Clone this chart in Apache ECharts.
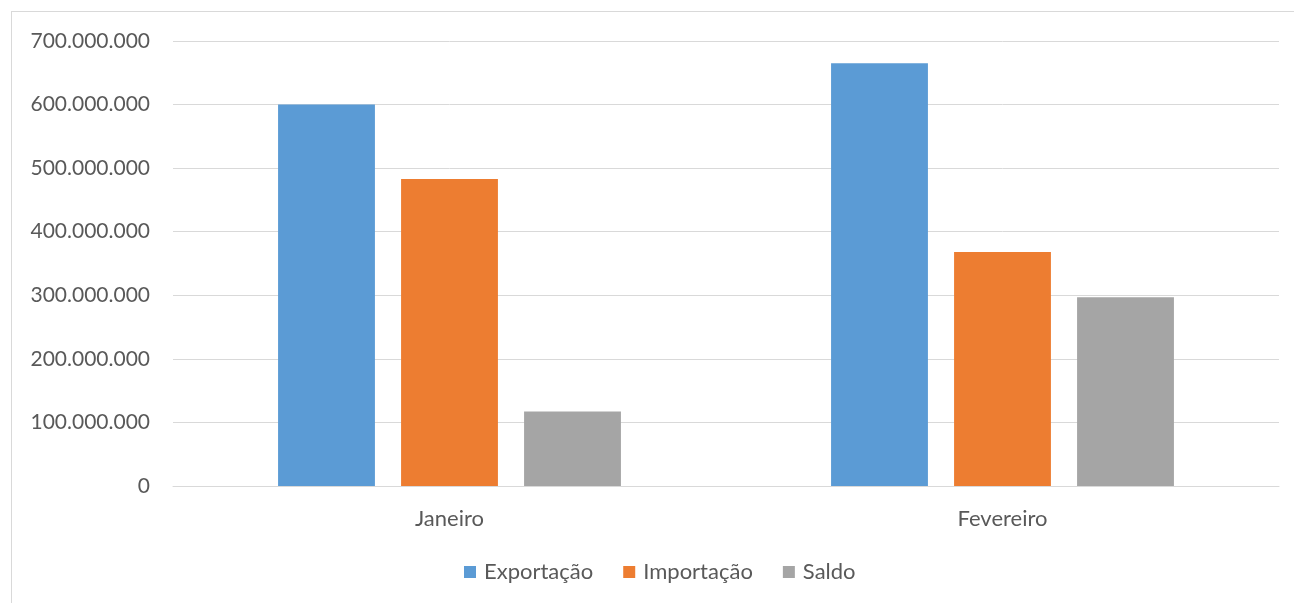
<!DOCTYPE html>
<html>
<head>
<meta charset="utf-8">
<script src="https://cdn.jsdelivr.net/npm/echarts@6/dist/echarts.min.js"></script>
<style>
  html, body { margin: 0; padding: 0; background: #fff; overflow: hidden; }
  #frame { position: absolute; left: 11px; top: 11px; width: 1400px; height: 700px; border-left: 1px solid #d9d9d9; border-top: 1px solid #d9d9d9; box-sizing: border-box; }
  #chart { position: absolute; left: 0; top: 0; width: 1294px; height: 603px; }
</style>
</head>
<body>
<div id="frame"></div>
<div id="chart"></div>
<script>
const categories = ['Janeiro', 'Fevereiro'];
const exportacao = [600000000, 665000000];
const importacao = [483000000, 368000000];
const saldo = [117000000, 297000000];
const seriesNames = ['Exportação', 'Importação', 'Saldo'];

const FONT = 'Lato, "Open Sans", sans-serif';
const TEXT = '#595959';

function fmt(v) {
  return String(Math.round(v)).replace(/\B(?=(\d{3})+(?!\d))/g, '.');
}

const chart = echarts.init(document.getElementById('chart'), null, { renderer: 'canvas' });
chart.setOption({
  animation: false,
  backgroundColor: 'transparent',
  color: ['#5B9BD5', '#ED7D31', '#A5A5A5'],
  grid: { left: 173, right: 15, top: 41, bottom: 117, containLabel: false },
  legend: {
    data: seriesNames,
    bottom: 15,
    left: 459,
    itemWidth: 12,
    itemHeight: 12,
    itemGap: 30,
    icon: 'rect',
    textStyle: { color: TEXT, fontSize: 22, fontFamily: FONT, padding: [0, 0, 0, 3] }
  },
  xAxis: {
    type: 'category',
    data: categories,
    axisLine: { lineStyle: { color: '#d9d9d9', width: 1 } },
    axisTick: { show: false },
    axisLabel: { color: TEXT, fontSize: 22, fontFamily: FONT, margin: 22 }
  },
  yAxis: {
    type: 'value',
    min: 0,
    max: 700000000,
    interval: 100000000,
    axisLine: { show: false },
    axisTick: { show: false },
    splitLine: { lineStyle: { color: '#d9d9d9', width: 1 } },
    axisLabel: { color: TEXT, fontSize: 21, fontFamily: FONT, margin: 23, formatter: fmt }
  },
  series: [
    { name: seriesNames[0], type: 'bar', data: exportacao, barCategoryGap: '38%', barGap: '27%' },
    { name: seriesNames[1], type: 'bar', data: importacao, barCategoryGap: '38%', barGap: '27%' },
    { name: seriesNames[2], type: 'bar', data: saldo, barCategoryGap: '38%', barGap: '27%' }
  ]
});
</script>
</body>
</html>
